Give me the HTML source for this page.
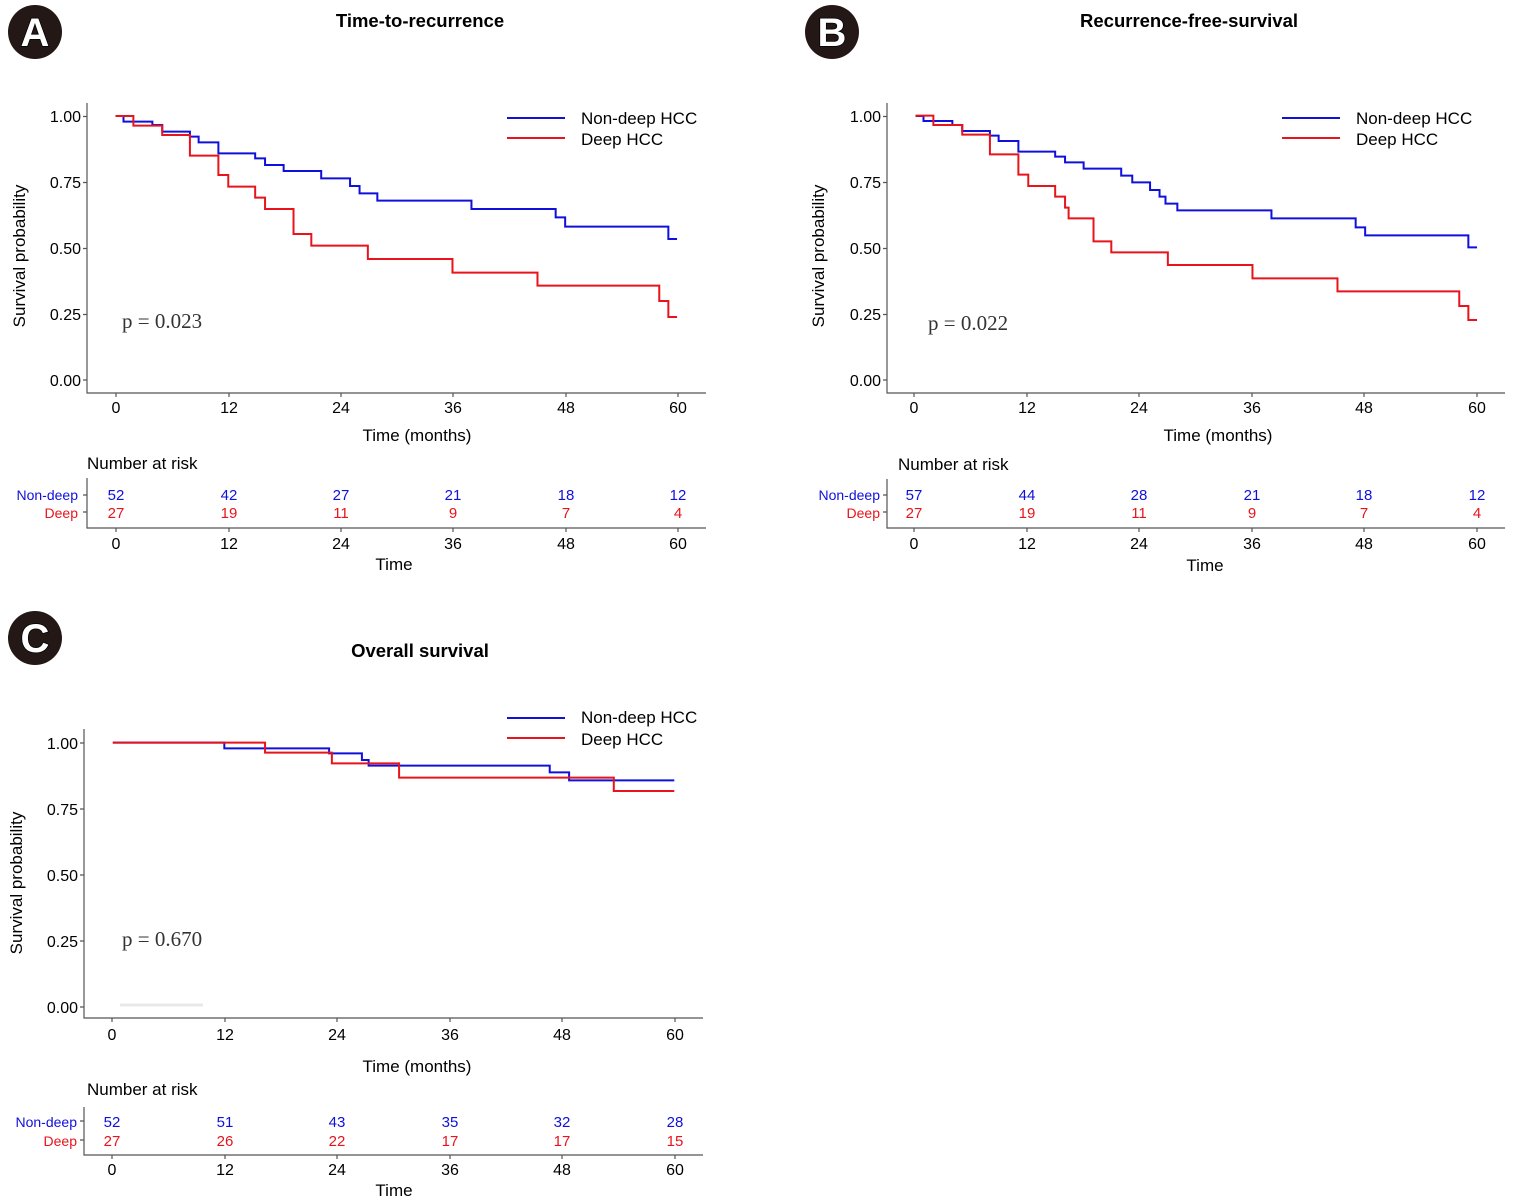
<!DOCTYPE html>
<html><head><meta charset="utf-8"><style>
html,body{margin:0;padding:0;background:#fff;}
svg{display:block;font-family:"Liberation Sans",Arial,sans-serif;}
</style></head><body>
<svg width="1515" height="1203" viewBox="0 0 1515 1203" xmlns="http://www.w3.org/2000/svg">
<g font-weight="bold" font-size="40" text-anchor="middle" fill="#fff" stroke="#000" stroke-width="1.5" paint-order="stroke">
<circle cx="35" cy="32" r="27" fill="#231815" stroke="none"/><text x="35" y="46">A</text>
<circle cx="832" cy="32" r="27" fill="#231815" stroke="none"/><text x="832" y="46">B</text>
<circle cx="35" cy="638" r="27" fill="#231815" stroke="none"/><text x="35" y="652">C</text>
</g>
<g font-weight="bold" font-size="18.5" text-anchor="middle" fill="#000">
<text x="420" y="27">Time-to-recurrence</text>
<text x="1189" y="27">Recurrence-free-survival</text>
<text x="420" y="657">Overall survival</text>
</g>

<!-- ===== Panel A ===== -->
<g stroke="#555" stroke-width="1.2" fill="none">
<path d="M87,103 V393 H706"/>
<path d="M83,116.5 H87 M83,182.5 H87 M83,248.5 H87 M83,314.5 H87 M83,380 H87"/>
<path d="M116,393 V397 M229,393 V397 M341,393 V397 M453,393 V397 M566,393 V397 M678,393 V397"/>
</g>
<g font-size="16" fill="#000" text-anchor="end">
<text x="81" y="122">1.00</text><text x="81" y="188">0.75</text><text x="81" y="254">0.50</text><text x="81" y="320">0.25</text><text x="81" y="386">0.00</text>
</g>
<g font-size="16" fill="#000" text-anchor="middle">
<text x="116" y="413">0</text><text x="229" y="413">12</text><text x="341" y="413">24</text><text x="453" y="413">36</text><text x="566" y="413">48</text><text x="678" y="413">60</text>
<text x="417" y="441" font-size="17">Time (months)</text>
</g>
<text transform="translate(25,256) rotate(-90)" font-size="17" text-anchor="middle">Survival probability</text>
<g transform="translate(80,100) scale(0.3954,0.33333)" fill="none">
<path vector-effect="non-scaling-stroke" stroke-width="2" stroke="#1010dd" d="M90,48 H110 V65 H183 V75 H208 V95 H278 V110 H300 V127 H350 V160 H443 V175 H468 V195 H515 V213 H610 V235 H683 V258 H707 V280 H752 V302 H990 V327 H1203 V352 H1227 V380 H1488 V417 H1510"/>
<path vector-effect="non-scaling-stroke" stroke-width="2" stroke="#e8141c" d="M90,48 H135 V77 H208 V105 H278 V167 H350 V225 H375 V260 H443 V293 H468 V327 H540 V402 H585 V437 H728 V477 H942 V518 H1157 V557 H1465 V603 H1488 V651 H1510"/>
</g>
<text x="122" y="328" font-family="Liberation Serif,serif" font-size="21" fill="#333">p = 0.023</text>
<path d="M507,118 H565" stroke="#1010dd" stroke-width="2"/><path d="M507,138 H565" stroke="#e8141c" stroke-width="2"/>
<g font-size="17" fill="#000"><text x="581" y="124">Non-deep HCC</text><text x="581" y="145">Deep HCC</text></g>
<text x="87" y="469" font-size="17">Number at risk</text>
<g stroke="#555" stroke-width="1.2" fill="none"><path d="M87,478 V528 H706"/><path d="M83,495 H87 M83,512 H87"/>
<path d="M116,528 V532 M229,528 V532 M341,528 V532 M453,528 V532 M566,528 V532 M678,528 V532"/></g>
<g font-size="14" text-anchor="end"><text x="78" y="500" fill="#1010dd">Non-deep</text><text x="78" y="518" fill="#e8141c">Deep</text></g>
<g font-size="15" text-anchor="middle">
<g fill="#1010dd"><text x="116" y="500">52</text><text x="229" y="500">42</text><text x="341" y="500">27</text><text x="453" y="500">21</text><text x="566" y="500">18</text><text x="678" y="500">12</text></g>
<g fill="#e8141c"><text x="116" y="518">27</text><text x="229" y="518">19</text><text x="341" y="518">11</text><text x="453" y="518">9</text><text x="566" y="518">7</text><text x="678" y="518">4</text></g>
<g fill="#000" font-size="16"><text x="116" y="549">0</text><text x="229" y="549">12</text><text x="341" y="549">24</text><text x="453" y="549">36</text><text x="566" y="549">48</text><text x="678" y="549">60</text>
<text x="394" y="570" font-size="17">Time</text></g>
</g>

<!-- ===== Panel B ===== -->
<g stroke="#555" stroke-width="1.2" fill="none">
<path d="M887,103 V393 H1505"/>
<path d="M883,116.5 H887 M883,182.5 H887 M883,248.5 H887 M883,314.5 H887 M883,380 H887"/>
<path d="M914,393 V397 M1027,393 V397 M1139,393 V397 M1252,393 V397 M1364,393 V397 M1477,393 V397"/>
</g>
<g font-size="16" fill="#000" text-anchor="end">
<text x="881" y="122">1.00</text><text x="881" y="188">0.75</text><text x="881" y="254">0.50</text><text x="881" y="320">0.25</text><text x="881" y="386">0.00</text>
</g>
<g font-size="16" fill="#000" text-anchor="middle">
<text x="914" y="413">0</text><text x="1027" y="413">12</text><text x="1139" y="413">24</text><text x="1252" y="413">36</text><text x="1364" y="413">48</text><text x="1477" y="413">60</text>
<text x="1218" y="441" font-size="17">Time (months)</text>
</g>
<text transform="translate(824,256) rotate(-90)" font-size="17" text-anchor="middle">Survival probability</text>
<g transform="translate(880,100) scale(0.3954,0.33333)" fill="none">
<path vector-effect="non-scaling-stroke" stroke-width="2" stroke="#1010dd" d="M90,48 H110 V63 H183 V75 H208 V93 H278 V107 H300 V123 H350 V155 H443 V170 H468 V187 H515 V206 H610 V227 H638 V247 H683 V270 H707 V290 H722 V311 H752 V331 H990 V355 H1203 V382 H1227 V406 H1488 V442 H1510"/>
<path vector-effect="non-scaling-stroke" stroke-width="2" stroke="#e8141c" d="M90,47 H135 V75 H208 V104 H278 V163 H350 V224 H375 V258 H443 V290 H468 V323 H477 V355 H540 V424 H585 V457 H728 V495 H942 V535 H1157 V574 H1465 V618 H1488 V660 H1510"/>
</g>
<text x="928" y="330" font-family="Liberation Serif,serif" font-size="21" fill="#333">p = 0.022</text>
<path d="M1282,118 H1340" stroke="#1010dd" stroke-width="2"/><path d="M1282,138 H1340" stroke="#e8141c" stroke-width="2"/>
<g font-size="17" fill="#000"><text x="1356" y="124">Non-deep HCC</text><text x="1356" y="145">Deep HCC</text></g>
<text x="898" y="470" font-size="17">Number at risk</text>
<g stroke="#555" stroke-width="1.2" fill="none"><path d="M887,479 V528 H1505"/><path d="M883,495 H887 M883,512 H887"/>
<path d="M914,528 V532 M1027,528 V532 M1139,528 V532 M1252,528 V532 M1364,528 V532 M1477,528 V532"/></g>
<g font-size="14" text-anchor="end"><text x="880" y="500" fill="#1010dd">Non-deep</text><text x="880" y="518" fill="#e8141c">Deep</text></g>
<g font-size="15" text-anchor="middle">
<g fill="#1010dd"><text x="914" y="500">57</text><text x="1027" y="500">44</text><text x="1139" y="500">28</text><text x="1252" y="500">21</text><text x="1364" y="500">18</text><text x="1477" y="500">12</text></g>
<g fill="#e8141c"><text x="914" y="518">27</text><text x="1027" y="518">19</text><text x="1139" y="518">11</text><text x="1252" y="518">9</text><text x="1364" y="518">7</text><text x="1477" y="518">4</text></g>
<g fill="#000" font-size="16"><text x="914" y="549">0</text><text x="1027" y="549">12</text><text x="1139" y="549">24</text><text x="1252" y="549">36</text><text x="1364" y="549">48</text><text x="1477" y="549">60</text>
<text x="1205" y="571" font-size="17">Time</text></g>
</g>

<!-- ===== Panel C ===== -->
<g stroke="#555" stroke-width="1.2" fill="none">
<path d="M84,729 V1018 H703"/>
<path d="M80,743 H84 M80,809 H84 M80,875 H84 M80,941 H84 M80,1007 H84"/>
<path d="M112,1018 V1022 M225,1018 V1022 M337,1018 V1022 M450,1018 V1022 M562,1018 V1022 M675,1018 V1022"/>
</g>
<g font-size="16" fill="#000" text-anchor="end">
<text x="78" y="749">1.00</text><text x="78" y="815">0.75</text><text x="78" y="881">0.50</text><text x="78" y="947">0.25</text><text x="78" y="1013">0.00</text>
</g>
<g font-size="16" fill="#000" text-anchor="middle">
<text x="112" y="1040">0</text><text x="225" y="1040">12</text><text x="337" y="1040">24</text><text x="450" y="1040">36</text><text x="562" y="1040">48</text><text x="675" y="1040">60</text>
<text x="417" y="1072" font-size="17">Time (months)</text>
</g>
<text transform="translate(22,883) rotate(-90)" font-size="17" text-anchor="middle">Survival probability</text>
<path d="M120,1005 H203" stroke="#e8e8e8" stroke-width="3"/>
<g transform="translate(80,700) scale(0.3954,0.33333)" fill="none">
<path vector-effect="non-scaling-stroke" stroke-width="2" stroke="#1010dd" d="M83,128 H365 V145 H630 V160 H713 V180 H730 V197 H1188 V217 H1237 V241 H1503"/>
<path vector-effect="non-scaling-stroke" stroke-width="2" stroke="#e8141c" d="M83,128 H468 V158 H637 V190 H807 V233 H1350 V273 H1503"/>
</g>
<text x="122" y="946" font-family="Liberation Serif,serif" font-size="21" fill="#333">p = 0.670</text>
<path d="M507,718 H565" stroke="#1010dd" stroke-width="2"/><path d="M507,738 H565" stroke="#e8141c" stroke-width="2"/>
<g font-size="17" fill="#000"><text x="581" y="723">Non-deep HCC</text><text x="581" y="745">Deep HCC</text></g>
<text x="87" y="1095" font-size="17">Number at risk</text>
<g stroke="#555" stroke-width="1.2" fill="none"><path d="M84,1107 V1155 H703"/><path d="M80,1121 H84 M80,1140 H84"/>
<path d="M112,1155 V1159 M225,1155 V1159 M337,1155 V1159 M450,1155 V1159 M562,1155 V1159 M675,1155 V1159"/></g>
<g font-size="14" text-anchor="end"><text x="77" y="1127" fill="#1010dd">Non-deep</text><text x="77" y="1146" fill="#e8141c">Deep</text></g>
<g font-size="15" text-anchor="middle">
<g fill="#1010dd"><text x="112" y="1127">52</text><text x="225" y="1127">51</text><text x="337" y="1127">43</text><text x="450" y="1127">35</text><text x="562" y="1127">32</text><text x="675" y="1127">28</text></g>
<g fill="#e8141c"><text x="112" y="1146">27</text><text x="225" y="1146">26</text><text x="337" y="1146">22</text><text x="450" y="1146">17</text><text x="562" y="1146">17</text><text x="675" y="1146">15</text></g>
<g fill="#000" font-size="16"><text x="112" y="1175">0</text><text x="225" y="1175">12</text><text x="337" y="1175">24</text><text x="450" y="1175">36</text><text x="562" y="1175">48</text><text x="675" y="1175">60</text>
<text x="394" y="1196" font-size="17">Time</text></g>
</g>
</svg>
</body></html>
